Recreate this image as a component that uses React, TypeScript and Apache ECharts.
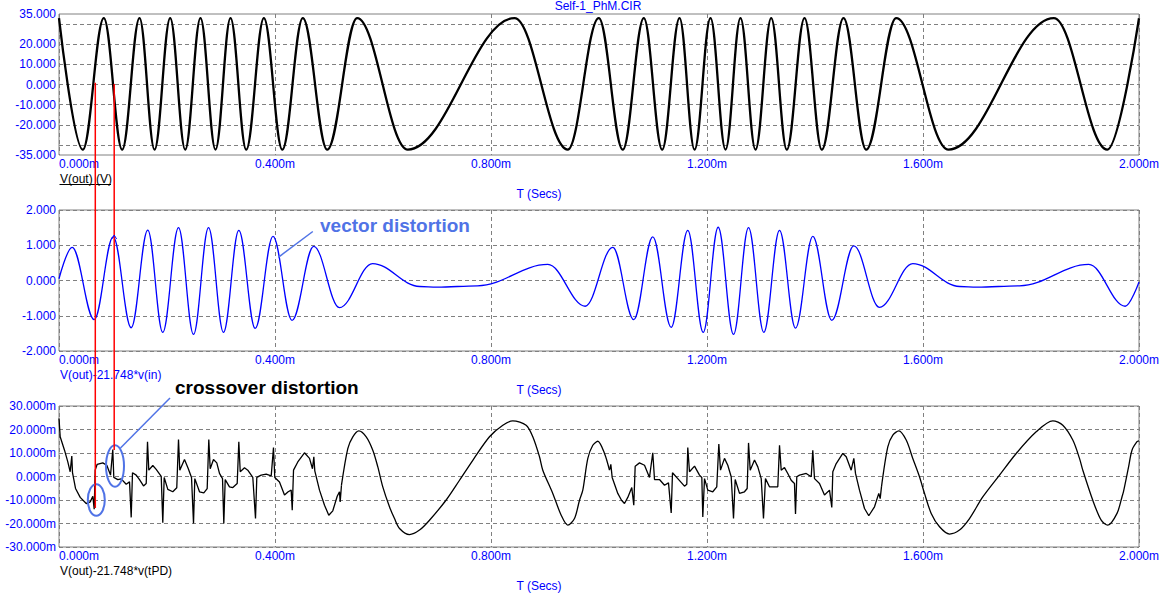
import React, { useEffect, useRef } from 'react';
import * as echarts from 'echarts';

// ---------- axis tick labels ----------
const xTickValues = [0, 0.4, 0.8, 1.2, 1.6, 2.0]; // ms
const outYLabels = [35, 20, 10, 0, -10, -20, -35];
const vecYLabels = [2, 1, 0, -1, -2];
const tpdYLabels = [30, 20, 10, 0, -10, -20, -30];

// ---------- panel 1 : V(out) (V) — extrema ----------
const outT = [0, 0.0441, 0.0830, 0.1170, 0.1491, 0.1769, 0.2059, 0.2337, 0.2620, 0.2898, 0.3176, 0.3467, 0.3794, 0.4135, 0.4515, 0.4967, 0.5522, 0.6459, 0.8435, 0.9422, 0.9996, 1.0441, 1.0830, 1.1170, 1.1491, 1.1769, 1.2065, 1.2343, 1.2620, 1.2898, 1.3189, 1.3478, 1.3806, 1.4126, 1.4528, 1.4948, 1.5504, 1.6472, 1.8422, 1.9411, 2.0];
const outV = [33, -32.3, 33, -32.3, 33, -32.3, 33, -32.3, 33, -32.3, 33, -32.3, 33, -32.3, 33, -32.3, 33, -32.3, 33, -32.3, 33, -32.3, 33, -32.3, 33, -32.3, 33, -32.3, 33, -32.3, 33, -32.3, 33, -32.3, 33, -32.3, 33, -32.3, 33, -32.3, 32.9];

// ---------- panel 2 : V(out)-21.748*v(in) ----------
const vecT = [0, 0.0244, 0.0652, 0.1004, 0.1337, 0.1644, 0.1922, 0.2213, 0.2491, 0.2769, 0.3046, 0.3330, 0.3633, 0.3963, 0.4315, 0.4717, 0.5194, 0.5806, 0.668, 0.700, 0.7750, 0.9052, 0.9744, 1.0256, 1.0644, 1.0996, 1.1337, 1.1644, 1.1930, 1.2207, 1.2491, 1.2769, 1.3052, 1.3343, 1.3639, 1.3959, 1.4311, 1.4719, 1.5194, 1.5811, 1.668, 1.700, 1.7787, 1.9070, 1.9744, 2.0];
const vecV = [0.05, 0.94, -1.11, 1.24, -1.34, 1.43, -1.47, 1.50, -1.53, 1.50, -1.47, 1.42, -1.36, 1.25, -1.13, 0.97, -0.77, 0.48, -0.17, -0.19, -0.15, 0.455, -0.73, 0.94, -1.11, 1.24, -1.33, 1.42, -1.47, 1.51, -1.53, 1.50, -1.47, 1.42, -1.35, 1.25, -1.13, 0.98, -0.76, 0.48, -0.17, -0.19, -0.15, 0.455, -0.73, -0.04];

// ---------- panel 3 : V(out)-21.748*v(tPD), in mV ----------
// jagged section 1
const tpdAT = [0, 0.0022, 0.0102, 0.0163, 0.0207, 0.0237, 0.0250, 0.0306, 0.0393, 0.0504, 0.0578, 0.0626, 0.0652, 0.0670, 0.0707, 0.0811, 0.0885, 0.0954, 0.0996, 0.1015, 0.1089, 0.1152, 0.1244, 0.1306, 0.1337, 0.1361, 0.1430, 0.1491, 0.1565, 0.1615, 0.1639, 0.1663, 0.1737, 0.1800, 0.1893, 0.1922, 0.1948, 0.2015, 0.2107, 0.2181, 0.2213, 0.2237, 0.2324, 0.2393, 0.2454, 0.2491, 0.2515, 0.2602, 0.2682, 0.2744, 0.2774, 0.2800, 0.2861, 0.2922, 0.2972, 0.3028, 0.3052, 0.3078, 0.3157, 0.3219, 0.3300, 0.3330, 0.3356, 0.3435, 0.3496, 0.3589, 0.3639, 0.3663, 0.3744, 0.3837, 0.3930, 0.3972, 0.3996, 0.4083, 0.4176, 0.4244, 0.4300, 0.4319, 0.4343, 0.4422, 0.4546, 0.4639, 0.4694, 0.4719, 0.4737, 0.4824, 0.4917, 0.4996, 0.5070, 0.5152, 0.5194, 0.5207, 0.5231];
const tpdAV = [24.7, 16.9, 11.2, 6.2, 2.0, 8.7, 1.6, -5.1, -8.9, -11.5, -10.8, -8.4, -13.9, 2.7, 5.2, 5.8, 4.8, 0.6, 11.5, -0.4, -1.3, -1.0, -3.3, -2.3, -17.4, 1.6, 0.6, -1.3, -4.0, -3.0, 14.8, 2.7, 4.7, 3.0, 0.1, -19.7, -0.4, -5.5, -6.5, -4.8, 15.7, 2.7, 7.2, 3.4, -0.4, -20.0, -0.9, -6.5, -7.0, -5.2, 15.7, 3.3, 7.2, 5.8, 1.3, -0.9, -20.0, -1.3, -4.4, -4.7, -3.0, 14.8, 2.0, 3.7, 2.7, -0.4, -17.9, -0.4, 0.6, 1.0, 0.3, 12.3, -0.4, -2.3, -7.9, -6.5, -5.8, -14.3, 2.7, 6.2, 10.1, 7.7, 3.3, 8.4, 2.4, -5.8, -12.2, -16.5, -14.6, -8.4, -6.5, -10.8, -3.7];
// smooth section 1
const tpdBT = [0.5231, 0.5348, 0.5441, 0.5552, 0.5689, 0.5811, 0.5904, 0.5996, 0.6120, 0.6213, 0.6306, 0.6491, 0.6676, 0.6861, 0.7170, 0.7417, 0.7663, 0.7972, 0.8219, 0.8404, 0.8651, 0.8774, 0.8898, 0.8959, 0.9144, 0.9300, 0.9422, 0.9546, 0.9639, 0.9700, 0.9793, 0.9885, 0.9978, 1.0102, 1.0194];
const tpdBV = [-3.7, 11.9, 16.9, 19.4, 16.9, 11.2, 4.1, -4.4, -12.9, -17.9, -22.1, -24.7, -22.8, -18.6, -10.0, -1.6, 6.9, 16.9, 21.8, 23.7, 21.8, 16.9, 8.4, 2.7, -7.2, -16.5, -20.7, -17.9, -10.1, -5.8, 7.7, 13.3, 15.0, 9.8, 2.7];
// jagged section 2
const tpdCT = [1.0194, 1.0219, 1.0244, 1.0348, 1.0417, 1.0472, 1.0533, 1.0607, 1.0644, 1.0670, 1.0750, 1.0843, 1.0935, 1.0996, 1.1028, 1.1120, 1.1213, 1.1287, 1.1337, 1.1361, 1.1459, 1.1583, 1.1626, 1.1644, 1.1676, 1.1769, 1.1861, 1.1904, 1.1922, 1.1954, 1.2015, 1.2107, 1.2181, 1.2219, 1.2250, 1.2324, 1.2385, 1.2448, 1.2491, 1.2522, 1.2602, 1.2694, 1.2744, 1.2769, 1.2800, 1.2880, 1.2941, 1.3004, 1.3046, 1.3083, 1.3157, 1.3311, 1.3343, 1.3374, 1.3435, 1.3496, 1.3559, 1.3620, 1.3639, 1.3663, 1.3713, 1.3837, 1.3930, 1.3959, 1.3991, 1.4083, 1.4176, 1.4269, 1.4311, 1.4330, 1.4393, 1.4515, 1.4578, 1.4670, 1.4719, 1.4750, 1.4824, 1.4917, 1.4996, 1.5102, 1.5181, 1.5207, 1.5231];
const tpdCV = [2.7, 5.2, -0.4, -7.2, -10.1, -11.5, -8.9, -4.7, -12.2, 4.4, 5.8, 4.8, -0.4, 10.1, -1.3, -1.3, -3.7, -2.7, -15.5, 1.6, -0.9, -4.1, -3.3, 12.3, 2.0, 4.4, 0.6, -0.4, -17.2, -0.9, -5.8, -6.5, -4.4, 13.8, 2.7, 7.7, 4.8, -0.1, -17.9, -1.3, -7.2, -6.5, -5.1, 14.3, 2.7, 7.0, 4.1, -0.9, -17.9, -0.9, -4.4, -4.4, 13.3, 2.7, 3.8, 1.3, -1.6, -3.0, -16.0, -0.1, 0.6, 1.3, -0.1, 11.2, -0.9, -3.0, -7.9, -5.8, -13.2, 2.0, 5.5, 9.8, 8.4, 2.7, 7.7, 1.3, -5.8, -13.6, -16.7, -12.9, -7.2, -9.4, -4.4];
// smooth section 2
const tpdDT = [1.5231, 1.5348, 1.5441, 1.5552, 1.5689, 1.5811, 1.5935, 1.6028, 1.6152, 1.6306, 1.6491, 1.6676, 1.6861, 1.7107, 1.7417, 1.7726, 1.8096, 1.8404, 1.8589, 1.8774, 1.8898, 1.8959, 1.9144, 1.9300, 1.9422, 1.9593, 1.9685, 1.9715, 1.9807, 1.9870, 1.9963, 2.0];
const tpdDV = [-4.4, 12.6, 17.6, 19.4, 15.5, 7.7, -0.1, -7.2, -15.7, -21.4, -24.5, -22.8, -17.9, -8.7, 0.6, 9.8, 19.0, 23.7, 21.8, 15.5, 7.7, 2.7, -10.1, -18.6, -20.7, -15.7, -8.7, -6.2, 4.1, 11.2, 14.8, 15.2];

const FONT = "'Liberation Sans', Arial, Helvetica, sans-serif";
const BLUE = '#0000ff';
const GRAY = '#808080';
const NOTE = '#5073e6';

const zip = (t: number[], v: number[]) => t.map((x, i) => [x, v[i]]);

const GRID_TOPS = [14, 210, 406];

function buildOption(): any {
  const grids = GRID_TOPS.map((top) => ({
    left: 59, top, width: 1080, height: 141,
    show: true, borderColor: GRAY, borderWidth: 1, backgroundColor: '#fff', containLabel: false,
  }));
  const xAxes = GRID_TOPS.map((_, i) => ({
    type: 'value', gridIndex: i, min: xTickValues[0], max: xTickValues[xTickValues.length - 1], interval: 0.4,
    axisLine: { show: false }, axisTick: { show: false },
    splitLine: { show: true, lineStyle: { color: GRAY, type: [4, 3], width: 1 } },
    axisLabel: {
      color: BLUE, fontSize: 12, fontFamily: FONT, margin: 3,
      showMinLabel: true, showMaxLabel: true, alignMinLabel: 'left',
      formatter: (v: number) => v.toFixed(3) + 'm',
    },
  }));
  const labelBase = { color: BLUE, fontSize: 12, fontFamily: FONT, margin: 3, interval: 0 };
  const yAxes = [
    {
      type: 'value', gridIndex: 0, min: -35, max: 35, interval: 5,
      axisLine: { show: false }, axisTick: { show: false },
      splitLine: { show: true, lineStyle: { color: ['rgba(0,0,0,0)', GRAY], type: [4, 3], width: 1 } },
      axisLabel: { ...labelBase, formatter: (v: number) => (outYLabels.includes(Math.round(v)) ? v.toFixed(3) : '') },
    },
    {
      type: 'value', gridIndex: 1, min: -2, max: 2, interval: 1,
      axisLine: { show: false }, axisTick: { show: false },
      splitLine: { show: true, lineStyle: { color: GRAY, type: [4, 3], width: 1 } },
      axisLabel: { ...labelBase, formatter: (v: number) => (vecYLabels.includes(Math.round(v)) ? v.toFixed(3) : '') },
    },
    {
      type: 'value', gridIndex: 2, min: -30, max: 30, interval: 10,
      axisLine: { show: false }, axisTick: { show: false },
      splitLine: { show: true, lineStyle: { color: GRAY, type: [4, 3], width: 1 } },
      axisLabel: { ...labelBase, formatter: (v: number) => (tpdYLabels.includes(Math.round(v)) ? v.toFixed(3) + 'm' : '') },
    },
  ];

  const lineBase = { type: 'line', showSymbol: false, symbol: 'none', silent: true };
  const series = [
    { ...lineBase, xAxisIndex: 0, yAxisIndex: 0, data: zip(outT, outV), smooth: 0.37, smoothMonotone: 'x', lineStyle: { color: '#000', width: 2.3 } },
    { ...lineBase, xAxisIndex: 1, yAxisIndex: 1, data: zip(vecT, vecV), smooth: 0.37, smoothMonotone: 'x', lineStyle: { color: BLUE, width: 1.3 } },
    { ...lineBase, xAxisIndex: 2, yAxisIndex: 2, data: zip(tpdAT, tpdAV), smooth: false, lineStyle: { color: '#000', width: 1.3 } },
    { ...lineBase, xAxisIndex: 2, yAxisIndex: 2, data: zip(tpdBT, tpdBV), smooth: 0.3, lineStyle: { color: '#000', width: 1.3 } },
    { ...lineBase, xAxisIndex: 2, yAxisIndex: 2, data: zip(tpdCT, tpdCV), smooth: false, lineStyle: { color: '#000', width: 1.3 } },
    { ...lineBase, xAxisIndex: 2, yAxisIndex: 2, data: zip(tpdDT, tpdDV), smooth: 0.3, lineStyle: { color: '#000', width: 1.3 } },
  ];

  const txt = (text: string, x: number, y: number, fill: string, opts: any = {}) => ({
    type: 'text', x, y, z: 100, silent: true,
    style: {
      text, fill, font: `${opts.weight || 'normal'} ${opts.size || 12}px ${FONT}`,
      align: opts.align || 'left', verticalAlign: 'middle',
      textAlign: opts.align || 'left', textVerticalAlign: 'middle',
    },
  });

  const graphic = [
    txt('Self-1_PhM.CIR', 598, 6, BLUE, { align: 'center' }),
    // panel 1
    txt('V(out) (V)', 60, 178.5, '#000'),
    { type: 'line', z: 100, silent: true, shape: { x1: 59.5, y1: 184.5, x2: 111, y2: 184.5 }, style: { stroke: '#000', lineWidth: 1 } },
    txt('T (Secs)', 539, 194, BLUE, { align: 'center' }),
    // panel 2
    txt('V(out)-21.748*v(in)', 60, 375, BLUE),
    txt('T (Secs)', 539, 389.5, BLUE, { align: 'center' }),
    // panel 3
    txt('V(out)-21.748*v(tPD)', 60, 571, '#000'),
    txt('T (Secs)', 539, 585.5, BLUE, { align: 'center' }),
    // cursors
    { type: 'line', z: 110, silent: true, shape: { x1: 95.3, y1: 82.7, x2: 95.3, y2: 508 }, style: { stroke: '#ff0000', lineWidth: 1.5 } },
    { type: 'line', z: 110, silent: true, shape: { x1: 114.2, y1: 84, x2: 114.2, y2: 450 }, style: { stroke: '#ff0000', lineWidth: 1.5 } },
    { type: 'polyline', z: 110, silent: true, shape: { points: [[111.8, 239], [114.2, 235], [116.6, 239]] }, style: { stroke: BLUE, lineWidth: 1, fill: 'none' } },
    // annotations
    txt('vector distortion', 320, 225, NOTE, { weight: 'bold', size: 19 }),
    { type: 'line', z: 100, silent: true, shape: { x1: 278.3, y1: 257.3, x2: 312.8, y2: 231.5 }, style: { stroke: NOTE, lineWidth: 1.5 } },
    txt('crossover distortion', 175, 387.5, '#000', { weight: 'bold', size: 19 }),
    { type: 'line', z: 100, silent: true, shape: { x1: 120.5, y1: 448, x2: 170, y2: 398 }, style: { stroke: NOTE, lineWidth: 1.5 } },
    { type: 'ellipse', z: 100, silent: true, shape: { cx: 96.3, cy: 500, rx: 8.5, ry: 15.8 }, style: { stroke: NOTE, lineWidth: 2, fill: 'none' } },
    { type: 'ellipse', z: 100, silent: true, shape: { cx: 115, cy: 466, rx: 9, ry: 20.8 }, style: { stroke: NOTE, lineWidth: 2, fill: 'none' } },
  ];

  return {
    animation: false,
    backgroundColor: '#fff',
    textStyle: { fontFamily: FONT },
    grid: grids,
    xAxis: xAxes,
    yAxis: yAxes,
    series,
    graphic,
  };
}

export default function App() {
  const ref = useRef<HTMLDivElement>(null);
  useEffect(() => {
    if (!ref.current) return;
    const chart = echarts.init(ref.current, null, { renderer: 'svg' });
    chart.setOption(buildOption());
    return () => chart.dispose();
  }, []);
  return (
    <div
      ref={ref}
      style={{ position: 'absolute', left: 0, top: 0, width: 1167, height: 597, background: '#fff' }}
    />
  );
}
